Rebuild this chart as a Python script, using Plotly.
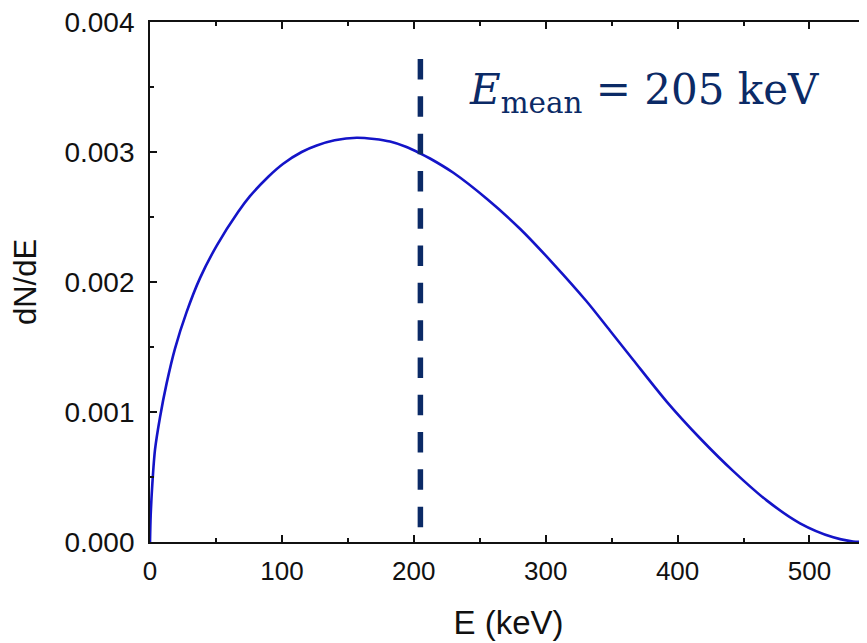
import plotly.graph_objects as go

# Spectrum
energy_keV = [0, 0.5, 1.8, 3.8, 7.6, 12.6, 19, 27.8, 37.9, 50.6, 66.9, 75.8, 89.7,
              101, 115, 126.4, 140, 156.7, 170, 182, 194, 204.7, 212.3, 230, 255.3,
              280.5, 305.8, 331.1, 348.8, 366.4, 391.7, 417, 442.2, 467.5, 492.8,
              518, 533, 545]
dN_dE = [0, 0.0002, 0.00045, 0.00071, 0.00096, 0.00122, 0.00149, 0.00177, 0.00203,
         0.00228, 0.00254, 0.00266, 0.00281, 0.00291, 0.00300, 0.00305, 0.00309,
         0.00311, 0.00310, 0.00308, 0.00304, 0.00299, 0.00295, 0.00284, 0.00264,
         0.00241, 0.00214, 0.00185, 0.001625, 0.00140, 0.00108, 0.000798, 0.000545,
         0.000320, 0.000144, 0.000036, 0.000004, 0]

mean_energy_keV = 205
mean_label = "<i>E</i><sub>mean</sub> = 205 keV"

x_ticks = [0, 100, 200, 300, 400, 500]
y_ticks = [0.000, 0.001, 0.002, 0.003, 0.004]
y_tick_text = ["0.000", "0.001", "0.002", "0.003", "0.004"]

navy = "#0b2a66"
ink = "#111111"
sans = "Liberation Sans, Arial, sans-serif"

fig = go.Figure()
fig.add_trace(go.Scatter(
    x=energy_keV, y=dN_dE, mode="lines",
    line=dict(color="#1414c8", width=2.6, shape="spline", smoothing=0.8),
    showlegend=False, hoverinfo="skip"))

# dashed mean-energy marker
fig.add_shape(type="line", xref="x", yref="y",
              x0=mean_energy_keV, x1=mean_energy_keV, y0=0.003715, y1=0.000108,
              line=dict(color=navy, width=5.5, dash="20.5px,16.8px"))

fig.add_annotation(x=240, y=0.00346, xref="x", yref="y",
                   xanchor="left", yanchor="middle", showarrow=False,
                   text=mean_label,
                   font=dict(family="DejaVu Serif", size=42, color=navy))

fig.update_layout(
    width=859, height=635,
    margin=dict(l=142, r=0, t=14, b=101),
    paper_bgcolor="white", plot_bgcolor="white",
    font=dict(family=sans, size=26, color=ink),
    xaxis=dict(
        range=[0, 543.6], tickmode="array", tickvals=x_ticks,
        ticks="inside", ticklen=7, tickwidth=1.5, tickcolor=ink,
        minor=dict(ticks="inside", ticklen=4, dtick=50, tick0=0, tickcolor=ink, tickwidth=1.5),
        showline=True, linecolor=ink, linewidth=1.8, mirror="ticks",
        showgrid=False, zeroline=False,
        tickfont=dict(family=sans, size=26, color=ink),
        ticklabelstandoff=5, ticklabeloverflow="allow",
        title=dict(text="E (keV)", font=dict(family=sans, size=33, color=ink), standoff=26),
    ),
    yaxis=dict(
        range=[0, 0.004], tickmode="array", tickvals=y_ticks, ticktext=y_tick_text,
        ticks="inside", ticklen=7, tickwidth=1.5, tickcolor=ink,
        minor=dict(ticks="inside", ticklen=4, dtick=0.0005, tick0=0, tickcolor=ink, tickwidth=1.5),
        showline=True, linecolor=ink, linewidth=1.8, mirror=False,
        showgrid=False, zeroline=False,
        tickfont=dict(family=sans, size=28, color=ink),
        ticklabelstandoff=8, ticklabeloverflow="allow",
        title=dict(text="dN/dE", font=dict(family=sans, size=31, color=ink), standoff=20),
    ),
)

fig.write_html("out.html")
